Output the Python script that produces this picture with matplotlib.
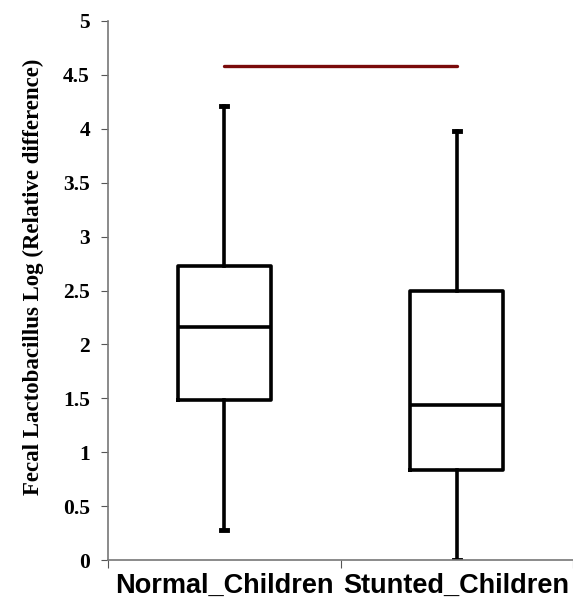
import matplotlib
matplotlib.use('Agg')
import matplotlib.pyplot as plt

groups = ['Normal_Children', 'Stunted_Children']
whislo = [0.28, 0.0]
q1 = [1.48, 0.835]
med = [2.16, 1.44]
q3 = [2.73, 2.50]
whishi = [4.21, 3.98]
sig_y = 4.58

fig = plt.figure(figsize=(5.73, 6.08), dpi=100)
ax = fig.add_axes([108 / 573, 48 / 608, 465 / 573, 539 / 608])

stats = [dict(label=g, whislo=a, q1=b, med=c, q3=d, whishi=e)
         for g, a, b, c, d, e in zip(groups, whislo, q1, med, q3, whishi)]
pos = [0.5, 1.5]
lw = 2.6
ax.bxp(stats, positions=pos, widths=0.4, capwidths=0.025, showfliers=False,
       boxprops=dict(color='black', lw=lw),
       medianprops=dict(color='black', lw=lw),
       whiskerprops=dict(color='black', lw=lw),
       capprops=dict(color='black', lw=3.5))

ax.plot(pos, [sig_y, sig_y], color='#7a0a0a', lw=2.4, solid_capstyle='round')

ax.set_xlim(0, 2)
ax.set_ylim(0, 5)
ax.set_yticks([0, 0.5, 1, 1.5, 2, 2.5, 3, 3.5, 4, 4.5, 5])
ax.set_yticklabels(['0', '0.5', '1', '1.5', '2', '2.5', '3', '3.5', '4', '4.5', '5'],
                   fontfamily='Liberation Serif', fontweight='bold', fontsize=15.5)
ax.set_xticks([0, 1, 2])
ax.set_xticklabels(['', '', ''])
ax.set_xticks(pos, minor=True)
ax.set_xticklabels(groups, minor=True, fontfamily='Liberation Sans',
                   fontweight='bold', fontsize=19.5)
ax.tick_params(axis='x', which='minor', length=0, pad=9)
ax.tick_params(axis='x', which='major', length=6, color='#555555', direction='out')
ax.tick_params(axis='y', length=5, color='#555555', direction='out', pad=8)

for s in ['top', 'right']:
    ax.spines[s].set_visible(False)
for s in ['left', 'bottom']:
    ax.spines[s].set_color('#777777')
    ax.spines[s].set_linewidth(1.2)

ax.set_ylabel('Fecal Lactobacillus Log (Relative difference)',
              fontfamily='Liberation Serif', fontweight='bold', fontsize=16.5)
ax.yaxis.set_label_coords(-0.138, 0.525)

fig.savefig('out.png', dpi=100)
